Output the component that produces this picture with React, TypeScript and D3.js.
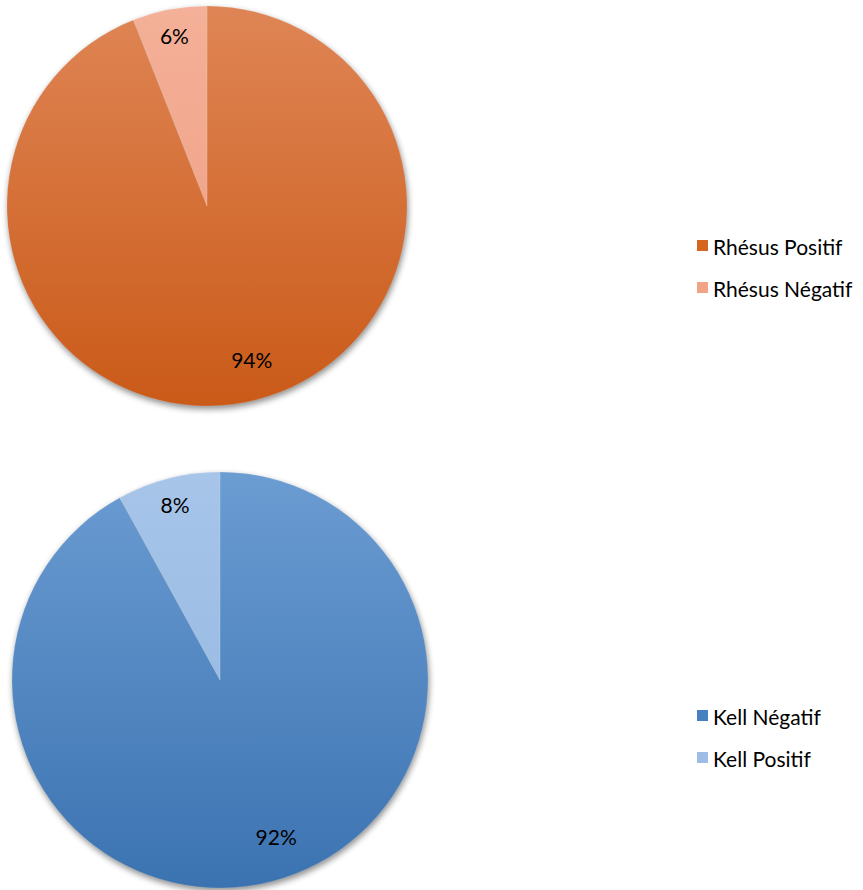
import React from "react";
import * as d3 from "d3";

const rhesusLabels = ["Rhésus Positif", "Rhésus Négatif"];
const rhesusValues = [94, 6];
const kellLabels = ["Kell Négatif", "Kell Positif"];
const kellValues = [92, 8];

type PieSpec = {
  id: string;
  labels: string[];
  values: number[];
  cx: number;
  cy: number;
  r: number;
  colorsTop: string[];
  colorsBottom: string[];
  legendColors: string[];
  legendY: number;
};

const pies: PieSpec[] = [
  {
    id: "rh",
    labels: rhesusLabels,
    values: rhesusValues,
    cx: 207,
    cy: 206,
    r: 200,
    colorsTop: ["#df8555", "#f4b098"],
    colorsBottom: ["#ca5a18", "#ee9c7e"],
    legendColors: ["#d4661f", "#f2a486"],
    legendY: 246,
  },
  {
    id: "kell",
    labels: kellLabels,
    values: kellValues,
    cx: 220,
    cy: 680,
    r: 208,
    colorsTop: ["#6b9cd2", "#a7c5e9"],
    colorsBottom: ["#3b73b1", "#8fb3df"],
    legendColors: ["#4680c0", "#9dbde6"],
    legendY: 716,
  },
];

function Pie({ p }: { p: PieSpec }) {
  const total = p.values[0] + p.values[1];
  const bigFrac = p.values[0] / total;
  const arcsData = d3
    .pie<number>()
    .sort(null)
    .value((d) => d)
    .startAngle(0)
    .endAngle(2 * Math.PI)(p.values);
  const arc = d3.arc<d3.PieArcDatum<number>>().innerRadius(0).outerRadius(p.r);
  return (
    <g>
      <defs>
        {p.values.map((_, i) => (
          <linearGradient
            key={i}
            id={`${p.id}-g${i}`}
            gradientUnits="userSpaceOnUse"
            x1={0}
            y1={-p.r}
            x2={0}
            y2={p.r}
          >
            <stop offset="0" stopColor={p.colorsTop[i]} />
            <stop offset="1" stopColor={p.colorsBottom[i]} />
          </linearGradient>
        ))}
      </defs>
      <g transform={`translate(${p.cx},${p.cy})`}>
        <circle r={p.r} fill="#000" opacity={0.45} filter="url(#shadow)" transform="translate(1,3)" />
        {arcsData.map((a, i) => (
          <path key={i} d={arc(a) || ""} fill={`url(#${p.id}-g${i})`} stroke="rgba(255,255,255,0.25)" strokeWidth={0.5} />
        ))}
        {arcsData.map((a, i) => {
          let ang: number;
          let rf: number;
          if (i === 0) {
            ang = Math.PI * 0.9 * (bigFrac / 0.93);
            rf = 0.8;
          } else {
            ang = (a.startAngle + a.endAngle) / 2;
            rf = 0.87;
          }
          const x = Math.sin(ang) * p.r * rf;
          const y = -Math.cos(ang) * p.r * rf;
          return (
            <text
              key={i}
              x={x}
              y={y}
              textAnchor="middle"
              dominantBaseline="central"
              fontSize={21}
              fill="#000"
            >
              {p.values[i]}%
            </text>
          );
        })}
      </g>
      {p.labels.map((l, i) => (
        <g key={l} transform={`translate(697,${p.legendY + i * 42})`}>
          <rect x={0} y={-6} width={11} height={11} fill={p.legendColors[i]} />
          <text x={16} y={0} dominantBaseline="central" fontSize={21} fill="#000">
            {l}
          </text>
        </g>
      ))}
    </g>
  );
}

export default function App() {
  return (
    <svg
      width={863}
      height={890}
      style={{ position: "absolute", left: 0, top: 0, fontFamily: "Lato, 'Open Sans', sans-serif" }}
    >
      <defs>
        <filter id="shadow" x="-20%" y="-20%" width="140%" height="140%">
          <feGaussianBlur stdDeviation={3} />
        </filter>
      </defs>
      <rect width={863} height={890} fill="#fff" />
      {pies.map((p) => (
        <Pie key={p.id} p={p} />
      ))}
    </svg>
  );
}
